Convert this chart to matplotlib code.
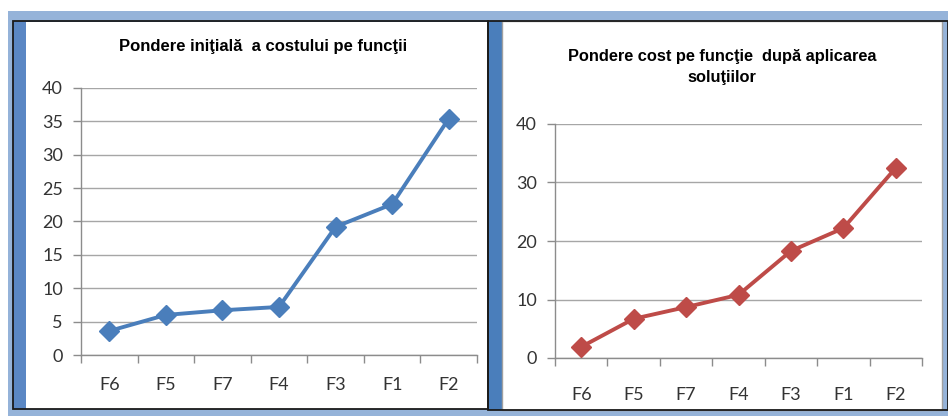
import matplotlib
matplotlib.use("Agg")
import matplotlib.pyplot as plt
from matplotlib.patches import Rectangle

categories = ["F6", "F5", "F7", "F4", "F3", "F1", "F2"]
initial_weights = [3.6, 6.0, 6.7, 7.2, 19.2, 22.6, 35.4]
after_weights = [1.9, 6.7, 8.7, 10.8, 18.3, 22.2, 32.5]

title_left = "Pondere iniţială  a costului pe funcţii"
title_right = "Pondere cost pe funcţie  după aplicarea\nsoluţiilor"

W, H = 948, 416
LABEL_FONT = ["Lato", "DejaVu Sans"]
TITLE_FONT = ["Liberation Sans", "DejaVu Sans"]


def px_rect(fig, x0, y0, x1, y1, **kw):
    # rectangle given in pixel coords (top-left origin), kept behind the axes
    r = Rectangle((x0 / W, 1 - y1 / H), (x1 - x0) / W, (y1 - y0) / H,
                  transform=fig.transFigure, zorder=-5, **kw)
    fig.patches.append(r)


def px_axes(fig, x0, y0, x1, y1):
    return fig.add_axes([x0 / W, 1 - y1 / H, (x1 - x0) / W, (y1 - y0) / H])


def style_axes(ax, values, color, ymax, ystep, xpad):
    x = list(range(len(categories)))
    ax.plot(x, values, color=color, lw=2.8, marker="D", ms=10,
            markeredgecolor=color, zorder=3, clip_on=False)
    ax.set_xlim(-0.5, len(categories) - 0.5)
    ax.set_ylim(0, ymax)
    ax.set_yticks(range(0, ymax + 1, ystep))
    ax.set_xticks(x)
    ax.set_xticklabels(categories)
    ax.set_xticks([i - 0.5 for i in range(len(categories) + 1)], minor=True)
    ax.tick_params(axis="x", which="major", length=0, pad=xpad, labelsize=13,
                   colors="#333333")
    ax.tick_params(axis="x", which="minor", length=6, width=1, color="#8c8c8c")
    ax.tick_params(axis="y", length=6, width=1, color="#8c8c8c", pad=7,
                   labelsize=13, labelcolor="#333333")
    for lab in ax.get_xticklabels() + ax.get_yticklabels():
        lab.set_fontfamily(LABEL_FONT)
    ax.grid(axis="y", color="#a6a6a6", lw=1)
    ax.set_axisbelow(True)
    for side in ["top", "right"]:
        ax.spines[side].set_visible(False)
    for side in ["left", "bottom"]:
        ax.spines[side].set_color("#8c8c8c")
        ax.spines[side].set_linewidth(1)
    ax.set_facecolor("none")


fig = plt.figure(figsize=(W / 100, H / 100), dpi=100)
fig.patch.set_facecolor("white")

# blue frame and panels
px_rect(fig, 8, 11, 948, 416, facecolor="#95b3d9", edgecolor="none")
px_rect(fig, 13, 21, 488, 409, facecolor="#5a87c4", edgecolor="none")
px_rect(fig, 26, 22, 488, 409, facecolor="white", edgecolor="none")
px_rect(fig, 13, 21, 488, 409, facecolor="none", edgecolor="#1a1a1a", lw=1.3)
px_rect(fig, 489, 21, 502, 410, facecolor="#4a7ebb", edgecolor="none")
px_rect(fig, 502, 21, 942, 410, facecolor="white", edgecolor="#a0a0a0", lw=1)
px_rect(fig, 488, 21, 948, 410, facecolor="none", edgecolor="#1a1a1a", lw=1.3)

ax1 = px_axes(fig, 81, 88, 477, 355)
style_axes(ax1, initial_weights, "#4a7ebb", 40, 5, 16)
fig.text(263 / W, 1 - 47 / H, title_left, ha="center", va="center",
         fontsize=12, fontweight="bold", family=TITLE_FONT)

ax2 = px_axes(fig, 555, 124, 922, 358)
style_axes(ax2, after_weights, "#be4b48", 40, 10, 21)
fig.text(722 / W, 1 - 67 / H, title_right, ha="center", va="center",
         fontsize=11.8, fontweight="bold", family=TITLE_FONT, linespacing=1.55)

fig.savefig("out.png", dpi=100)
